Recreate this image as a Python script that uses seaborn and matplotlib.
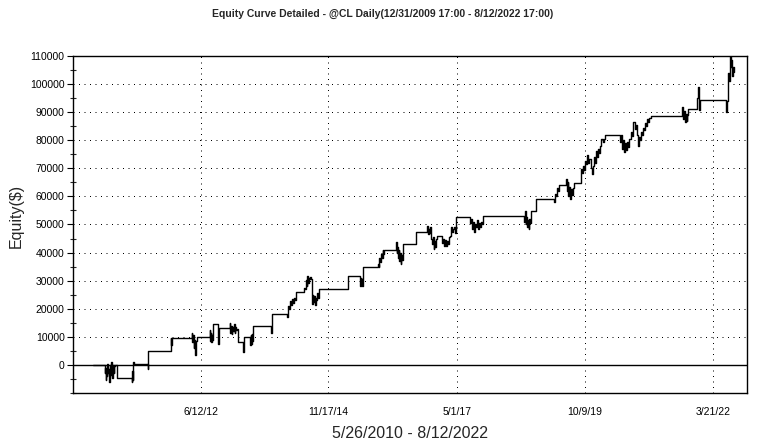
import numpy as np
import pandas as pd
import matplotlib
matplotlib.use("Agg")
import matplotlib.pyplot as plt
from matplotlib.ticker import MultipleLocator
import seaborn as sns

sns.set_style("white")
plt.rcParams['font.family'] = ['Liberation Sans', 'DejaVu Sans']

first_day = "2010-05-26"
last_day = "2022-08-12"

# each trade: first day, last day, equity readings while it was open
trade_start = [
    "2010-08-15", "2010-11-06", "2011-02-18", "2011-06-09", "2011-11-16",
    "2012-04-11", "2012-08-13", "2012-10-08", "2012-12-30", "2013-04-06",
    "2013-05-25", "2013-10-18", "2014-02-06", "2014-06-04", "2015-04-05",
    "2015-06-27", "2015-10-30", "2016-03-03", "2016-07-21", "2016-10-05",
    "2017-01-17", "2017-07-30", "2018-08-12", "2018-11-03", "2019-03-08",
    "2019-05-30", "2019-09-11", "2020-06-08", "2021-08-18", "2021-11-30",
    "2022-06-19",
]
trade_end = [
    "2010-10-23", "2010-11-07", "2011-03-04", "2011-06-12", "2011-11-22",
    "2012-05-15", "2012-09-03", "2012-10-15", "2013-02-24", "2013-04-13",
    "2013-06-15", "2013-10-21", "2014-04-09", "2014-09-16", "2015-04-08",
    "2015-07-21", "2015-12-11", "2016-04-20", "2016-07-24", "2016-12-13",
    "2017-04-24", "2017-10-28", "2018-09-29", "2018-11-06", "2019-04-12",
    "2019-07-25", "2020-02-25", "2021-01-09", "2021-09-29", "2021-12-21",
    "2022-08-10",
]
trade_path = [
    [-3000, -1000, -5500, -2000, -4000, 500, -3000, -1500, -6000, -2500,
     0, -3500, 1200, -2000, -4500, -1000, 0, -3000, -500, 0],
    [-4800],
    [-6000, -2000, -5500, 1200, 500],
    [-1500, 3000, 4800],
    [9500, 7000, 9500],
    [11500, 8000, 10500, 6000, 9000, 7500, 3500, 8500, 10000],
    [12500, 8500, 11500, 8000, 10500, 9000, 14500],
    [7300, 13000],
    [14800, 11500, 14000, 11000, 13500, 12000, 14500, 11500, 13500, 12500, 12700, 8100],
    [4500, 9800],
    [7000, 10500, 7500, 11000, 8500, 12000, 13700],
    [11500, 18000],
    [17000, 21000, 20000, 22800, 21500, 23500, 22000, 24000, 23000, 25900],
    [27500, 27000, 30300, 28000, 31600, 29000, 31000, 30500, 31200, 30500, 21600,
     25000, 22500, 24500, 21500, 24000, 23000, 25500, 24000, 26000, 27000],
    [31600],
    [28200, 31000, 29000, 30500, 28000, 31000, 34800],
    [36000, 35000, 38000, 36500, 39500, 38000, 41000, 39500, 41000],
    [43700, 40000, 42000, 38000, 41000, 37000, 40000, 35900, 39000, 37500, 43000],
    [47400],
    [49400, 46600, 48500, 47000, 49000, 45000, 43000, 45500, 41200, 44000, 42000, 45000, 45900],
    [43500, 45000, 42300, 44500, 42500, 44000, 43000, 45500, 46000, 49000, 47500,
     48500, 49000, 47000, 52600],
    [50500, 52000, 48500, 51000, 47300, 50000, 49000, 51500, 48500, 50500, 49000,
     51000, 50000, 53000],
    [51000, 54800, 50000, 52500, 49000, 51500, 48400, 52000, 50500, 54800],
    [59100],
    [58000, 61000, 60000, 63000, 62000, 63900],
    [66200, 62000, 65000, 60000, 63500, 59100, 62500, 60500, 63000, 64800],
    [69800, 68500, 71000, 69500, 72500, 71500, 74600, 72000, 73500, 70000, 68000,
     71000, 74000, 72000, 76000, 74000, 77000, 75500, 78000, 80500, 79500, 80500, 81900],
    [79500, 81700, 77000, 80000, 75900, 79000, 76500, 79500, 77500, 80500, 80500,
     83000, 81500, 86600, 84000, 85500, 82000, 78100, 81000, 80000, 83000, 82000,
     84500, 83500, 86000, 85000, 87500, 86500, 88000, 88800],
    [91900, 87500, 90500, 86600, 89500, 87000, 89000, 91000],
    [95000, 99000, 96000, 90600, 94500],
    [90100, 94000, 98400, 104000, 101000, 110800, 106000, 108400, 103000, 106000, 104400],
]

tick_dates = ["2012-06-12", "2014-11-17", "2017-05-01", "2019-10-09", "2022-03-21"]
tick_labels = ["6/12/12", "11/17/14", "5/1/17", "10/9/19", "3/21/22"]

rows = [(pd.Timestamp(first_day), 0.0)]
for s, e, path in zip(trade_start, trade_end, trade_path):
    if len(path) > 1:
        days = pd.date_range(s, e, periods=len(path))
    else:
        days = [pd.Timestamp(s)]
    rows += list(zip(days, path))
rows.append((pd.Timestamp(last_day), rows[-1][1]))
df = pd.DataFrame(rows, columns=["date", "equity"])

fig = plt.figure(figsize=(7.6, 4.44), dpi=100)
ax = fig.add_axes([73/760, 51/444, 674/760, 337/444])

ax.axhline(0, color="black", lw=1.0, zorder=1)
sns.lineplot(data=df, x="date", y="equity", ax=ax, color="black", lw=1.0,
             drawstyle="steps-post", estimator=None, sort=False, zorder=3)

ax.set_xlim(pd.Timestamp("2010-01-05"), pd.Timestamp("2022-11-12"))
ax.set_ylim(-10000, 110000)
ax.set_yticks(np.arange(0, 110001, 10000))
ax.set_yticklabels([str(v) for v in range(0, 110001, 10000)])
ax.yaxis.set_minor_locator(MultipleLocator(5000))
ax.set_xticks(pd.to_datetime(tick_dates))
ax.set_xticklabels(tick_labels)

ax.grid(True, which="major", color="black", linestyle=(0, (1, 4.5)), linewidth=0.72)
ax.tick_params(axis="y", which="major", left=True, length=4, width=0.8,
               direction="out", labelsize=7.5, pad=2, colors="black")
ax.tick_params(axis="y", which="minor", left=True, length=4, width=0.8,
               direction="inout")
ax.tick_params(axis="x", length=0, labelsize=7.5, pad=10, colors="black")
for sp in ax.spines.values():
    sp.set_color("black")
    sp.set_linewidth(1.0)

ax.set_xlabel("")
ax.set_ylabel("")
fig.text(0.504, 0.968, "Equity Curve Detailed - @CL Daily(12/31/2009 17:00 - 8/12/2022 17:00)",
         ha="center", va="center", fontsize=7.5, fontweight="bold")
fig.text(16/760, 228/444, "Equity($)", rotation=90, ha="center", va="center", fontsize=11.5)
fig.text(410/760, 1 - 433/444, "5/26/2010 - 8/12/2022", ha="center", va="center", fontsize=11.5)

fig.savefig("out.png", dpi=100)
